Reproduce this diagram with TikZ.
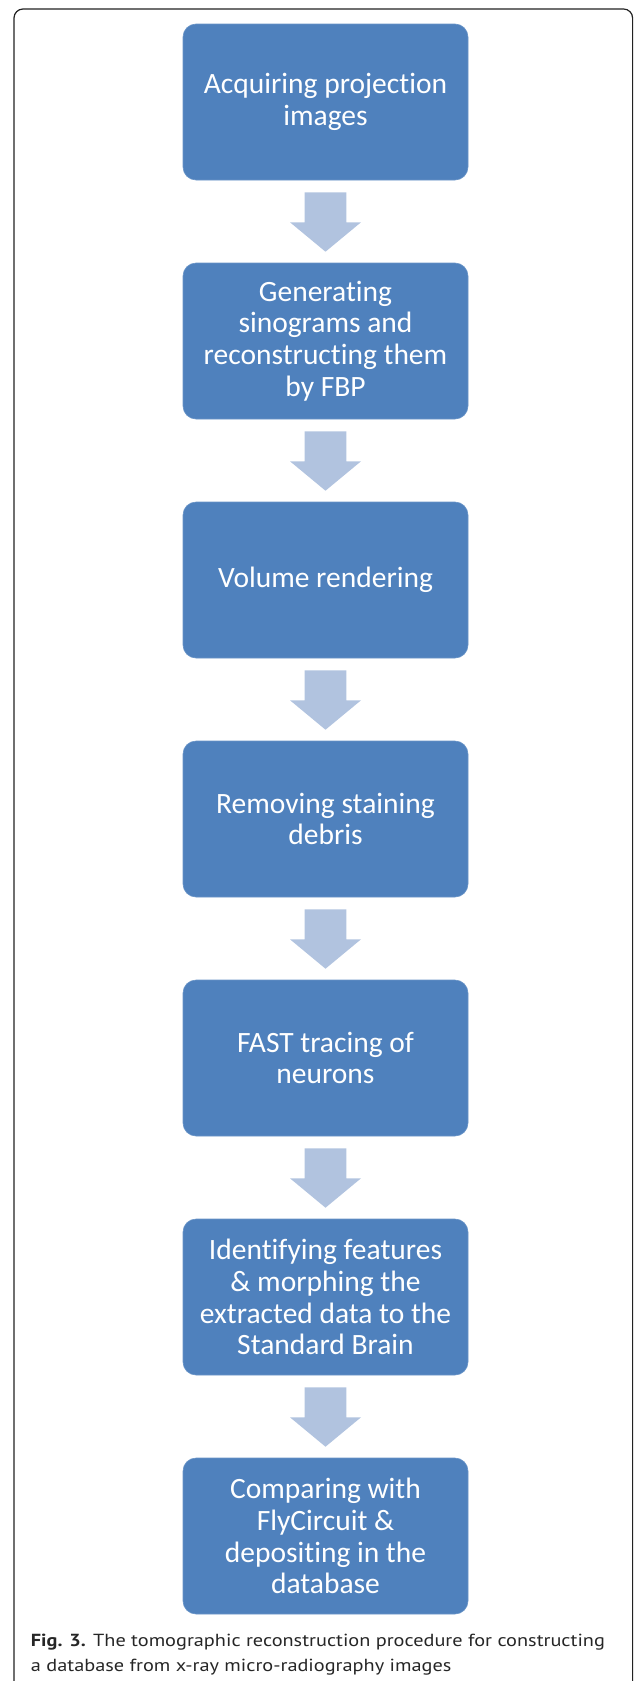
\documentclass[tikz,border=0pt]{standalone}
\usepackage{fontspec}
\setmainfont{Carlito}[Ligatures=NoCommon]
\newfontfamily\capfont{PT Sans}
\usetikzlibrary{calc}
\definecolor{boxblue}{HTML}{4F81BD}
\definecolor{arrowblue}{HTML}{B1C3DF}
\definecolor{framegray}{HTML}{222222}
\newcommand\capfontsel{\capfont\fontsize{17.5pt}{26pt}\selectfont}
\newlength\mycapw
\settowidth\mycapw{\capfontsel\textbf{Fig. 3.} The tomographic reconstruction procedure for constructing}
\tikzset{
  stepbox/.style={fill=boxblue, draw=boxblue!85!white, line width=0.6pt, rounded corners=13pt,
    minimum width=285pt, minimum height=156pt, inner sep=0pt, text=white, align=center,
    font=\fontsize{29.5pt}{31.7pt}\selectfont},
  flowarrow/.style={fill=arrowblue, draw=none},
  captext/.style={anchor=base west, inner sep=0pt, font=\capfontsel, text=black!85}
}
\begin{document}
\begin{tikzpicture}[x=1pt,y=-1pt]
\useasboundingbox (0,0) rectangle (633,1681);
\pgfmathsetmacro\capsx{574/\mycapw}
\begin{scope}
\clip (0,0) rectangle (633,1681);
\draw[framegray, line width=1.2pt, rounded corners=9pt] (14,1700) -- (14,9) -- (632.6,9) -- (632.6,1700);
\end{scope}
\node[stepbox] (b1) at (325.5,102) {Acquiring projection\\images};
\node[stepbox] (b2) at (325.5,341) {Generating\\sinograms and\\reconstructing them\\by FBP};
\node[stepbox] (b3) at (325.5,580) {Volume rendering};
\node[stepbox] (b4) at (325.5,819) {Removing staining\\debris};
\node[stepbox] (b5) at (325.5,1058) {FAST tracing of\\neurons};
\node[stepbox] (b6) at (325.5,1297) {Identifying features\\\& morphing the\\extracted data to the\\Standard Brain};
\node[stepbox] (b7) at (325.5,1536) {Comparing with\\FlyCircuit \&\\depositing in the\\database};
\foreach \a/\b in {b1/b2,b2/b3,b3/b4,b4/b5,b5/b6,b6/b7}{
  \fill[flowarrow] ($(\a.south)+(-20.8,12)$) -- ($(\a.south)+(20.8,12)$) -- ($(\a.south)+(20.8,42)$)
    -- ($(\a.south)+(35.5,42)$) -- ($(\b.north)+(0,-11)$) -- ($(\a.south)+(-35.5,42)$)
    -- ($(\a.south)+(-20.8,42)$) -- cycle;
}
\node[captext, xscale=\capsx] (cap1) at (30.7,1646) {\textbf{Fig. 3.} The tomographic reconstruction procedure for constructing};
\node[captext, xscale=\capsx] (cap2) at (30.7,1671) {a database from x-ray micro-radiography images};
\end{tikzpicture}
\end{document}
